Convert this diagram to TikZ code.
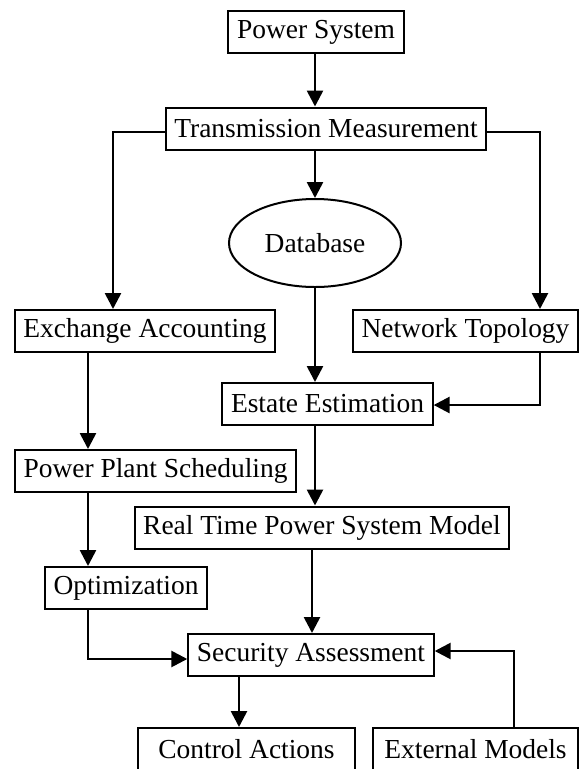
\documentclass[tikz,border=0pt]{standalone}
\usepackage{fontspec}
\setmainfont{Liberation Serif}
\usetikzlibrary{arrows.meta,shapes.geometric}
\tikzset{
  blk/.style={draw, line width=1.5pt, inner xsep=6.5pt, inner ysep=0pt,
    minimum height=31.5pt, font=\fontsize{20.6}{24}\selectfont},
  store/.style={draw, ellipse, line width=1.5pt, inner sep=0pt,
    minimum width=129pt, minimum height=66pt, font=\fontsize{20.6}{24}\selectfont},
  flow/.style={line width=2pt, -{Triangle[length=12pt,width=12pt]}},
}
\begin{document}
\begin{tikzpicture}[x=0.75pt, y=-0.75pt]
      \useasboundingbox (0,0) rectangle (580,769);
      \clip (0,0) rectangle (580,769);
      \node[blk] (ps) at (316,32) {Power System};
      \node[blk] (tm) at (326,128.5) {Transmission Measurement};
      \node[store] (db) at (315,243) {Database};
      \node[blk] (ea) at (145,331) {Exchange Accounting};
      \node[blk] (nt) at (465.5,331) {Network Topology};
      \node[blk] (ee) at (327.5,404) {Estate Estimation};
      \node[blk] (pps) at (155.5,471) {Power Plant Scheduling};
      \node[blk] (rt) at (322,527.5) {Real Time Power System Model};
      \node[blk] (op) at (126,588) {Optimization};
      \node[blk] (sa) at (311,655) {Security Assessment};
      \node[blk, minimum width=162.75pt] (ca) at (246.5,749) {Control Actions};
      \node[blk, minimum width=153.75pt] (em) at (475.5,749) {External Models};
      % bend points
      \coordinate (lb) at (113,132);
      \coordinate (rb) at (540,132);
      \coordinate (ntb) at (540,405);
      \coordinate (opb) at (88,659);
      \coordinate (emb) at (514,651);
      \begin{scope}[flow]
        \draw (ps.south -| 315,0) -- (tm.north -| 315,0);
        \draw (tm.west |- lb) -- (lb) -- (lb |- ea.north);
        \draw (tm.east |- rb) -- (rb) -- (rb |- nt.north);
        \draw (tm.south -| db.north) -- (db.north);
        \draw (db.south) -- (db.south |- ee.north);
        \draw (ntb |- nt.south) -- (ntb) -- (ntb -| ee.east);
        \draw (ea.south -| opb) -- (pps.north -| opb);
        \draw (ee.south -| 315,0) -- (rt.north -| 315,0);
        \draw (pps.south -| opb) -- (op.north -| opb);
        \draw (rt.south -| 312,0) -- (sa.north -| 312,0);
        \draw (op.south -| opb) -- (opb) -- (opb -| sa.west);
        \draw (sa.south -| 239,0) -- (ca.north -| 239,0);
        \draw (em.north -| emb) -- (emb) -- (emb -| sa.east);
      \end{scope}
    \end{tikzpicture}
\end{document}
